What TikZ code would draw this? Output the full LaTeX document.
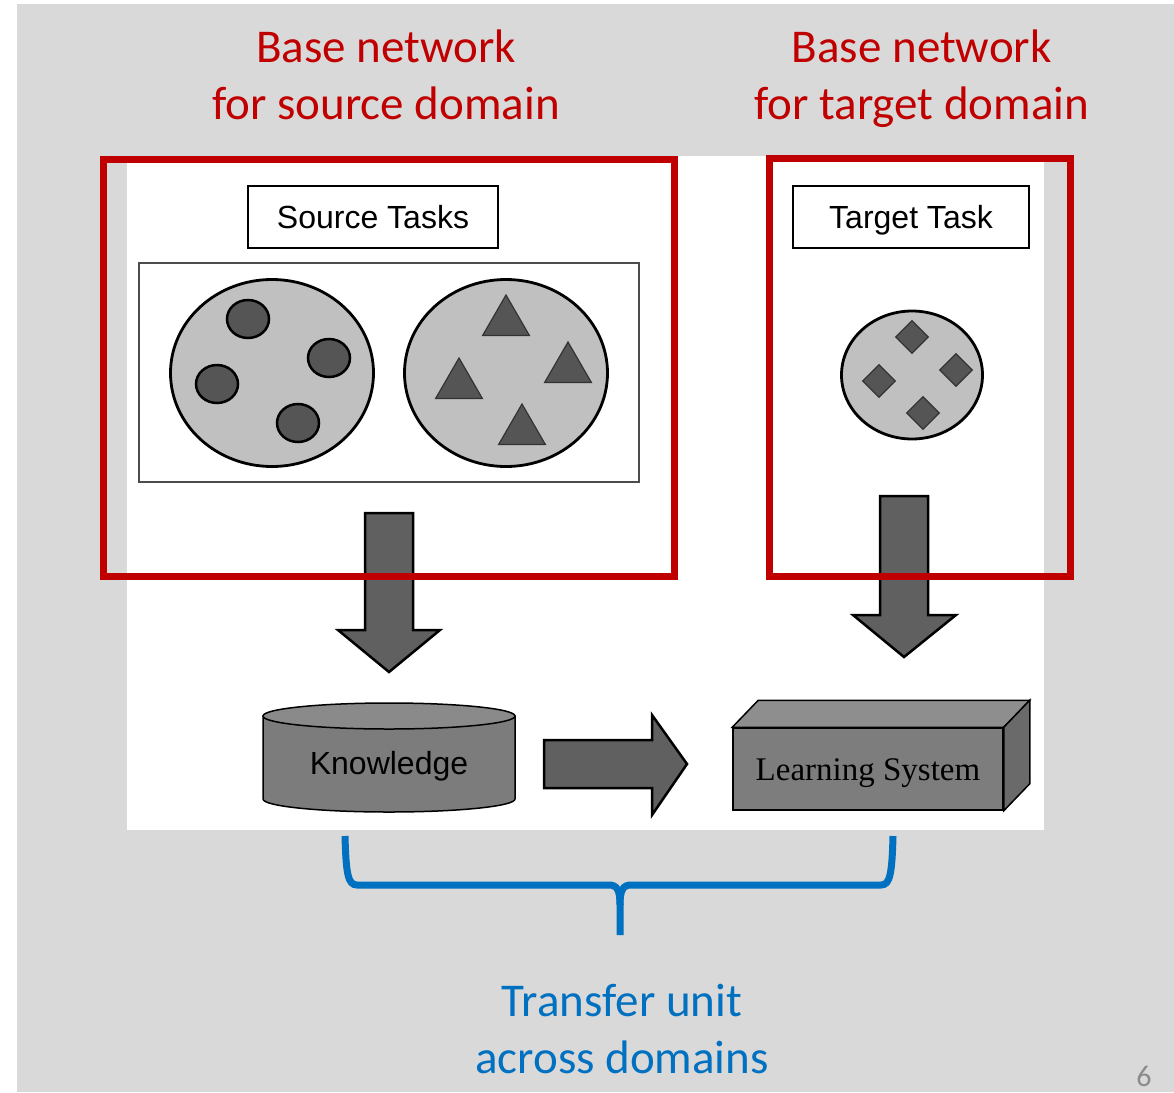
\documentclass[tikz,border=0pt]{standalone}
\usepackage{fontspec}
\setmainfont{Carlito}
\newfontfamily\arialfont{Liberation Sans}
\newfontfamily\timesfont{Liberation Serif}
\usepackage{tikz}
\usetikzlibrary{positioning,calc,shapes.geometric}
\definecolor{slidered}{HTML}{C00000}
\definecolor{slideblue}{HTML}{0070C0}
\definecolor{slidegray}{HTML}{D9D9D9}
\definecolor{setgray}{HTML}{C0C0C0}
\definecolor{itemgray}{HTML}{555555}
\definecolor{arrowgray}{HTML}{606060}
\definecolor{cylside}{HTML}{7C7C7C}
\definecolor{cyltop}{HTML}{8A8A8A}
\definecolor{boxfront}{HTML}{7D7D7D}
\definecolor{boxtop}{HTML}{8E8E8E}
\definecolor{boxside}{HTML}{6A6A6A}

\begin{document}
\begin{tikzpicture}[x=1pt,y=-1pt,
	title/.style={align=center,inner sep=0pt,font=\fontsize{47}{57}\selectfont},
	netframe/.style={draw=slidered,line width=7pt},
	taskbox/.style={draw=black,line width=1.5pt,fill=white,inner sep=0pt,text height=23pt,text depth=0pt,font=\arialfont\fontsize{32}{38}\selectfont},
	setshape/.style={ellipse,draw=black,line width=2.8pt,fill=setgray,inner sep=0pt},
	dot/.style={ellipse,draw=black,line width=2.5pt,fill=itemgray,minimum width=42pt,minimum height=38pt,inner sep=0pt},
	tri/.style={regular polygon,regular polygon sides=3,draw=black!80,line width=1.2pt,fill=itemgray,minimum size=54pt,inner sep=0pt},
	gem/.style={diamond,draw=black!80,line width=1.2pt,fill=itemgray,minimum width=33pt,minimum height=33pt,inner sep=0pt},
	blockarrow/.style={draw=black,line width=2.5pt,fill=arrowgray,line join=miter}]
		\useasboundingbox (0,0) rectangle (1174,1092);
		\fill[white] (0,0) rectangle (1174,1092);
		\fill[slidegray] (17,4) rectangle (1174,1092);
		\fill[white] (127,156) rectangle (1044,830);
		
		\node[taskbox,minimum width=250pt,minimum height=62pt] (srctask) at (373,217) {Source Tasks};
		\node[draw=black!70,line width=1.2pt,minimum width=500pt,minimum height=219pt] (srcset) at (389,372.5) {};
		\node[setshape,minimum width=203pt,minimum height=187pt] (circset) at (272,373) {};
		\node[setshape,minimum width=203pt,minimum height=187pt] (triset) at (506,373) {};
		\node[dot] (c1) at (248,319) {};
		\node[dot] (c2) at (329,358) {};
		\node[dot] (c3) at (217,384) {};
		\node[dot] (c4) at (298,423) {};
		\node[tri] (t1) at (506,322) {};
		\node[tri] (t2) at (568,369) {};
		\node[tri] (t3) at (459,385) {};
		\node[tri] (t4) at (522,431) {};
		
		\node[taskbox,minimum width=236pt,minimum height=62pt] (tgttask) at (911,217) {Target Task};
		\node[setshape,minimum width=141pt,minimum height=128pt] (gemset) at (912,375) {};
		\node[gem] (d1) at (912,337) {};
		\node[gem] (d2) at (956,370) {};
		\node[gem] (d3) at (879,381) {};
		\node[gem] (d4) at (923,413) {};
		
		\filldraw[blockarrow] (365,513) -- (413,513) -- (413,630) -- (440,630) -- (389,672) -- (338,630) -- (365,630) -- cycle;
		\filldraw[blockarrow] (880,496) -- (928,496) -- (928,615) -- (956,615) -- (904,657) -- (853,615) -- (880,615) -- cycle;
		\filldraw[blockarrow] (544,740) -- (652,740) -- (652,715) -- (687,764) -- (652,815) -- (652,788) -- (544,788) -- cycle;
		
		\filldraw[draw=black,line width=1.5pt,fill=cylside] (263,716) -- (263,799) arc[start angle=180,end angle=360,x radius=126pt,y radius=13pt] -- (515,716) -- cycle;
		\filldraw[draw=black,line width=1.5pt,fill=cyltop] (389,716) ellipse [x radius=126pt,y radius=13pt];
		\node[text height=23pt,text depth=0pt,font=\arialfont\fontsize{32}{38}\selectfont] (know) at (389,763) {Knowledge};
		
		\node[draw=black,line width=1.5pt,fill=boxfront,minimum width=270pt,minimum height=82pt,text height=22pt,text depth=0pt,font=\timesfont\fontsize{33}{40}\selectfont] (learn) at (868,769) {Learning System};
		\filldraw[draw=black,line width=1.5pt,fill=boxtop] (learn.north west) -- ++(26,-27) -- ($(learn.north east)+(26,-27)$) -- (learn.north east) -- cycle;
		\filldraw[draw=black,line width=1.5pt,fill=boxside] (learn.north east) -- ++(26,-27) -- ($(learn.south east)+(26,-27)$) -- (learn.south east) -- cycle;
		
		\node[netframe,minimum width=571pt,minimum height=416.5pt] (srcnet) at (389,367.75) {};
		\node[netframe,minimum width=301.5pt,minimum height=418pt] (tgtnet) at (919.75,367) {};
		\node[title,text=slidered,above=36pt of srcnet,xshift=-3pt] (srctitle) {Base network\\for source domain};
		\node[title,text=slidered,above=27pt of tgtnet,xshift=2pt] (tgttitle) {Base network\\for target domain};
		
		\coordinate (tip) at (620,935);
		\draw[slideblue,line width=7pt] (345,836) .. controls (346,874) and (348,885) .. (357,885) -- (609,885) .. controls (617,885) and (620,890) .. (620,905) -- (tip);
		\draw[slideblue,line width=7pt] (893,836) .. controls (892,874) and (890,885) .. (881,885) -- (631,885) .. controls (623,885) and (620,890) .. (620,905);
		\node[title,text=slideblue,below=49pt of tip,xshift=2pt] (transfer) {Transfer unit\\across domains};
		
		\node[text=black!45,font=\fontsize{30}{34}\selectfont] (pageno) at (1144,1076) {6};
	\end{tikzpicture}
\end{document}
